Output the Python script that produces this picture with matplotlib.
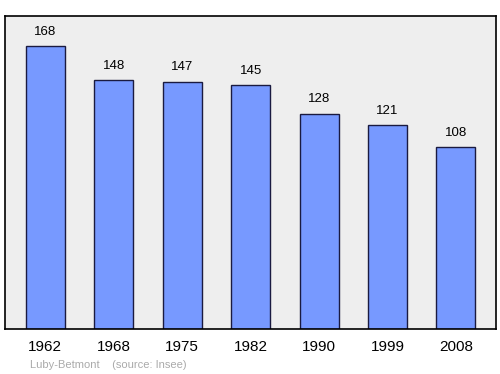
import numpy as np
import matplotlib.pyplot as plt

years = ["1962", "1968", "1975", "1982", "1990", "1999", "2008"]
population = [168, 148, 147, 145, 128, 121, 108]

fig = plt.figure(figsize=(5, 3.74), dpi=100)
ax = fig.add_axes([5 / 500, 1 - 329 / 374, 491 / 500, 313 / 374])
ax.set_facecolor("#eeeeee")

x = np.arange(len(years))
ax.bar(x, population, width=0.57, color="#7799ff", edgecolor="#1a1a40", linewidth=1)

for xi, v in zip(x, population):
    ax.annotate(str(v), (xi, v), xytext=(0, 6), textcoords="offset points",
                ha="center", va="bottom", fontsize=9.5, family="Liberation Sans")

ax.set_xlim(-0.59, 6.585)
ax.set_ylim(0, 186)
ax.set_yticks([])
ax.set_xticks(x)
ax.set_xticklabels(years, fontsize=11, family="Liberation Sans")
ax.tick_params(axis="x", length=0, pad=8)
for s in ax.spines.values():
    s.set_linewidth(1.2)

fig.text(30 / 500, 1 - 365 / 374, "Luby-Betmont    (source: Insee)", fontsize=8,
         color="#aaaaaa", family="Liberation Sans", va="center")

fig.savefig("out.png", dpi=100)
